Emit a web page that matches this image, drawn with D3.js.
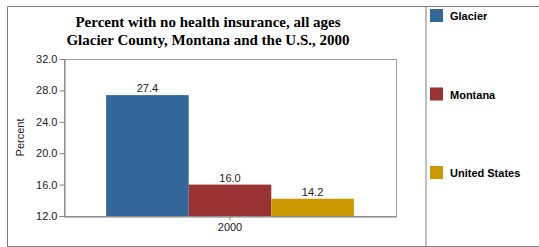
<!DOCTYPE html>
<html>
<head>
<meta charset="utf-8">
<script src="https://cdn.jsdelivr.net/npm/d3@7"></script>
<style>
  body { margin: 0; background: #fff; }
  svg { display: block; }
</style>
</head>
<body>
<div id="chart"></div>
<script>
// data
const categories = ["2000"];
const series = ["Glacier", "Montana", "United States"];
const values = [27.4, 16.0, 14.2];
const colors = ["#336699", "#993333", "#cc9900"];
const yTicks = [12, 16, 20, 24, 28, 32];
const titleLines = ["Percent with no health insurance, all ages",
                    "Glacier County, Montana and the U.S., 2000"];

const W = 539, H = 247;
var margin = { top: 59, left: 64, right: 143, bottom: 31 },
    width = W - margin.left - margin.right,
    height = H - margin.top - margin.bottom;

var svg = d3.select("#chart").append("svg")
    .attr("width", W)
    .attr("height", H);

// outer frame and legend divider
svg.append("path")
    .attr("d", "M7.5," + (H - 0.5) + "V6.5H" + W)
    .attr("fill", "none")
    .attr("stroke", "#808080");
svg.append("line")
    .attr("x1", 7).attr("x2", W)
    .attr("y1", H - 0.5).attr("y2", H - 0.5)
    .attr("stroke", "#808080");
svg.append("line")
    .attr("x1", 426).attr("x2", 426)
    .attr("y1", 7).attr("y2", H - 1)
    .attr("stroke", "#c0c0c0")
    .attr("stroke-width", 2);

// title
svg.append("g").selectAll("text")
    .data(titleLines).enter()
    .append("text")
    .attr("x", 208)
    .attr("y", (d, i) => 27 + i * 18)
    .attr("text-anchor", "middle")
    .style("font-family", "'Liberation Serif', 'Times New Roman', serif")
    .style("font-size", "15px")
    .style("font-weight", "bold")
    .text(d => d);

var g = svg.append("g")
    .attr("transform", "translate(" + margin.left + "," + margin.top + ")");

var y = d3.scaleLinear().domain([12, 32]).range([height, 0]);
var x0 = d3.scaleBand().domain(categories).range([0, width]).paddingInner(0).paddingOuter(0.17);
var x1 = d3.scaleBand().domain(series).range([0, x0.bandwidth()]);

// plot frame
g.append("rect")
    .attr("x", 0.5).attr("y", 0.5)
    .attr("width", width).attr("height", height)
    .attr("fill", "none")
    .attr("stroke", "#a0a0a0");

// bars
var grp = g.selectAll(".grp")
    .data(categories).enter()
    .append("g")
    .attr("transform", d => "translate(" + x0(d) + ",0)");

grp.selectAll("rect")
    .data(series.map((s, i) => ({ s: s, v: values[i], c: colors[i] })))
    .enter()
    .append("rect")
    .attr("x", d => x1(d.s))
    .attr("y", d => y(d.v))
    .attr("width", x1.bandwidth())
    .attr("height", d => height - y(d.v))
    .attr("fill", d => d.c);

grp.selectAll(".lbl")
    .data(series.map((s, i) => ({ s: s, v: values[i] })))
    .enter()
    .append("text")
    .attr("x", d => x1(d.s) + x1.bandwidth() / 2)
    .attr("y", d => y(d.v) - 3)
    .attr("text-anchor", "middle")
    .style("font-family", "Arial, 'Liberation Sans', sans-serif")
    .style("font-size", "11px")
    .style("fill", "#222")
    .text(d => d.v.toFixed(1));

// y axis
var yAxis = g.append("g")
    .attr("transform", "translate(0.5,0)")
    .call(d3.axisLeft(y).tickValues(yTicks).tickFormat(d3.format(".1f")).tickSize(5).tickSizeOuter(0));
yAxis.select(".domain").attr("stroke", "#808080");
yAxis.selectAll(".tick line").attr("stroke", "#808080");
yAxis.selectAll("text")
    .attr("x", -7)
    .style("font-family", "Arial, 'Liberation Sans', sans-serif")
    .style("font-size", "11px")
    .style("fill", "#222");

// x axis
var xAxis = g.append("g")
    .attr("transform", "translate(0," + (height + 0.5) + ")")
    .call(d3.axisBottom(x0).tickSize(4).tickSizeOuter(0));
xAxis.select(".domain").attr("stroke", "#808080");
xAxis.selectAll(".tick line").attr("stroke", "#808080");
xAxis.selectAll("text")
    .attr("y", 7)
    .style("font-family", "Arial, 'Liberation Sans', sans-serif")
    .style("font-size", "11px")
    .style("fill", "#222");

// y label
svg.append("text")
    .attr("transform", "translate(24," + (margin.top + height / 2) + ") rotate(-90)")
    .attr("text-anchor", "middle")
    .style("font-family", "Arial, 'Liberation Sans', sans-serif")
    .style("font-size", "11px")
    .style("fill", "#222")
    .text("Percent");

// legend
var legend = svg.append("g").attr("transform", "translate(430,9)");
var item = legend.selectAll("g")
    .data(series).enter()
    .append("g")
    .attr("transform", (d, i) => "translate(0," + (i * 78.5) + ")");
item.append("rect")
    .attr("width", 13).attr("height", 13)
    .attr("fill", (d, i) => colors[i]);
item.append("text")
    .attr("x", 20).attr("y", 11)
    .style("font-family", "Arial, 'Liberation Sans', sans-serif")
    .style("font-size", "11px")
    .style("font-weight", "bold")
    .text(d => d);
</script>
</body>
</html>
